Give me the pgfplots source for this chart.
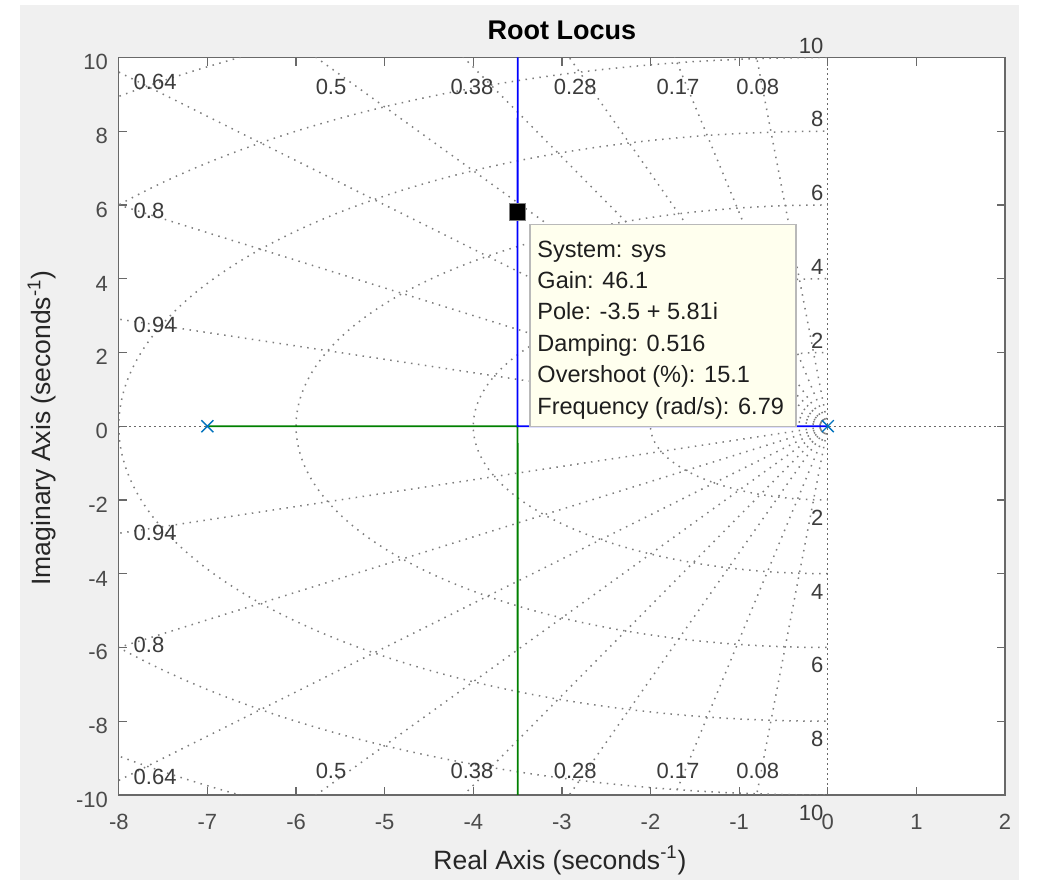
\documentclass[border=0pt]{standalone}
\usepackage{fontspec}
\setmainfont{Liberation Sans}
\usepackage{pgfplots}
\pgfplotsset{compat=1.18}
\definecolor{figbg}{RGB}{240,240,240}
\definecolor{axgray}{RGB}{105,105,105}
\definecolor{ticklab}{RGB}{75,75,75}
\definecolor{gridc}{RGB}{125,125,125}
\definecolor{gridlab}{RGB}{60,60,60}
\definecolor{locblue}{RGB}{0,0,255}
\definecolor{locgreen}{RGB}{0,128,0}
\definecolor{poleblue}{RGB}{0,114,189}
\definecolor{tipbg}{RGB}{255,255,238}
\definecolor{tipedge}{RGB}{185,185,185}
\definecolor{tiptext}{RGB}{30,30,30}
\newcommand\tickfont{\fontsize{11}{13}\selectfont}
\newcommand\labfont{\fontsize{13.25}{15}\selectfont}
\newcommand\tipfont{\fontsize{11.75}{14}\selectfont}
\tikzset{
 gridline/.style={draw=gridc, line width=0.75pt, dash pattern=on 0.75pt off 2.75pt},
 axdot/.style={draw=axgray, line width=0.6pt, dash pattern=on 1pt off 1.5pt},
 wlab/.style={font=\tickfont, text=gridlab, inner sep=0pt},
}
\begin{document}
\begin{tikzpicture}
\fill[white] (-59.4pt,-45.5pt) rectangle (459.6pt,397.5pt);
\fill[figbg] (-49.4pt,-42.5pt) rectangle (450.1pt,395pt);
\begin{axis}[
 at={(0pt,0pt)}, anchor=south west,
 width=443.1pt, height=368.75pt, scale only axis,
 xmin=-8, xmax=2, ymin=-10, ymax=10,
 xtick={-8,-7,...,2}, ytick={-10,-8,...,10},
 tick align=inside, major tick length=4.2pt,
 axis line style={draw=axgray, line width=0.6pt},
 every tick/.style={draw=axgray, line width=0.6pt},
 tick label style={font=\tickfont, text=ticklab},
 /pgf/number format/assume math mode=true,
 xticklabel style={anchor=base, inner sep=0pt, yshift=-17.5pt},
 yticklabel style={anchor=base east, inner sep=0pt, xshift=-5.25pt, yshift=-6.15pt},
 axis background/.style={fill=white},
 clip=false,
]
% grid
\begin{scope}
\clip (axis cs:-8,-10) rectangle (axis cs:2,10);
\begin{scope}
\clip (axis cs:-8,-10) rectangle (axis cs:0,10);
\draw[gridline] (axis cs:0,0) ellipse [x radius=2, y radius=2];
\draw[gridline] (axis cs:0,0) ellipse [x radius=4, y radius=4];
\draw[gridline] (axis cs:0,0) ellipse [x radius=6, y radius=6];
\draw[gridline] (axis cs:0,0) ellipse [x radius=8, y radius=8];
\draw[gridline] (axis cs:0,0) ellipse [x radius=10, y radius=10];
\draw[gridline] (axis cs:0,0) ellipse [x radius=12, y radius=12];
\end{scope}
\draw[gridline] (axis cs:0,0) -- (axis cs:-1.6,19.936);
\draw[gridline] (axis cs:0,0) -- (axis cs:-1.6,-19.936);
\draw[gridline] (axis cs:0,0) -- (axis cs:-3.4,19.709);
\draw[gridline] (axis cs:0,0) -- (axis cs:-3.4,-19.709);
\draw[gridline] (axis cs:0,0) -- (axis cs:-5.6,19.2);
\draw[gridline] (axis cs:0,0) -- (axis cs:-5.6,-19.2);
\draw[gridline] (axis cs:0,0) -- (axis cs:-7.6,18.5);
\draw[gridline] (axis cs:0,0) -- (axis cs:-7.6,-18.5);
\draw[gridline] (axis cs:0,0) -- (axis cs:-10,17.32);
\draw[gridline] (axis cs:0,0) -- (axis cs:-10,-17.32);
\draw[gridline] (axis cs:0,0) -- (axis cs:-12.8,15.367);
\draw[gridline] (axis cs:0,0) -- (axis cs:-12.8,-15.367);
\draw[gridline] (axis cs:0,0) -- (axis cs:-16,12);
\draw[gridline] (axis cs:0,0) -- (axis cs:-16,-12);
\draw[gridline] (axis cs:0,0) -- (axis cs:-18.8,6.823);
\draw[gridline] (axis cs:0,0) -- (axis cs:-18.8,-6.823);
\draw[axdot] (axis cs:-8,0) -- (axis cs:2,0);
\draw[axdot] (axis cs:0,-10) -- (axis cs:0,10);
\end{scope}
% grid labels: damping
\node[wlab, anchor=base] at (axis cs:-5.605,8.99) {0.5};
\node[wlab, anchor=base] at (axis cs:-4.015,8.99) {0.38};
\node[wlab, anchor=base] at (axis cs:-2.85,8.99) {0.28};
\node[wlab, anchor=base] at (axis cs:-1.69,8.99) {0.17};
\node[wlab, anchor=base] at (axis cs:-0.79,8.99) {0.08};
\node[wlab, anchor=base] at (axis cs:-5.605,-9.54) {0.5};
\node[wlab, anchor=base] at (axis cs:-4.015,-9.54) {0.38};
\node[wlab, anchor=base] at (axis cs:-2.85,-9.54) {0.28};
\node[wlab, anchor=base] at (axis cs:-1.69,-9.54) {0.17};
\node[wlab, anchor=base] at (axis cs:-0.79,-9.54) {0.08};
\node[wlab, anchor=base west] at (axis cs:-7.836,9.125) {0.64};
\node[wlab, anchor=base west] at (axis cs:-7.836,5.63) {0.8};
\node[wlab, anchor=base west] at (axis cs:-7.836,2.535) {0.94};
\node[wlab, anchor=base west] at (axis cs:-7.836,-9.72) {0.64};
\node[wlab, anchor=base west] at (axis cs:-7.836,-6.13) {0.8};
\node[wlab, anchor=base west] at (axis cs:-7.836,-3.09) {0.94};
% grid labels: natural frequency
\node[wlab, anchor=base east] at ([xshift=-2pt,yshift=2.2pt]axis cs:0,2) {2};
\node[wlab, anchor=base east] at ([xshift=-2pt,yshift=2.2pt]axis cs:0,4) {4};
\node[wlab, anchor=base east] at ([xshift=-2pt,yshift=2.2pt]axis cs:0,6) {6};
\node[wlab, anchor=base east] at ([xshift=-2pt,yshift=2.2pt]axis cs:0,8) {8};
\node[wlab, anchor=base east] at ([xshift=-2pt,yshift=2.2pt]axis cs:0,10) {10};
\node[wlab, anchor=base east] at ([xshift=-2pt,yshift=-12.7pt]axis cs:0,-2) {2};
\node[wlab, anchor=base east] at ([xshift=-2pt,yshift=-12.7pt]axis cs:0,-4) {4};
\node[wlab, anchor=base east] at ([xshift=-2pt,yshift=-12.7pt]axis cs:0,-6) {6};
\node[wlab, anchor=base east] at ([xshift=-2pt,yshift=-12.7pt]axis cs:0,-8) {8};
\node[wlab, anchor=base east] at ([xshift=-2pt,yshift=-12.7pt]axis cs:0,-10) {10};
% root locus branches; the square is the data-tip point (-3.5, 5.81) on the blue branch
\addplot[color=locgreen, line width=0.9pt, mark=none] coordinates {(-7,0) (-3.5,0) (-3.499,-10)};
\addplot[color=locblue, line width=0.9pt, mark=square*, mark indices={3}, mark size=4.2pt,
  mark options={solid, fill=black, draw=gray, line width=0.5pt}]
  coordinates {(0,0) (-3.5,0) (-3.5,5.81) (-3.499,10)};
% poles
\addplot[only marks, draw=none, mark=x, mark size=4.24pt, mark options={line width=0.7pt, draw=poleblue}] coordinates {(-7,0) (0,0)};
% data tip box
\filldraw[fill=tipbg, draw=tipedge, line width=0.6pt] (axis cs:-3.359,0) rectangle (axis cs:-0.359,5.465);
\coordinate (tipNW) at (axis cs:-3.359,5.465);
\end{axis}
\begin{scope}[every node/.style={font=\tipfont, text=tiptext, inner sep=0pt, anchor=base west}]
\node at ([xshift=3.5pt,yshift=-16.2pt]tipNW) {System: sys};
\node at ([xshift=3.5pt,yshift=-31.9pt]tipNW) {Gain: 46.1};
\node at ([xshift=3.5pt,yshift=-47.6pt]tipNW) {Pole: -3.5 + 5.81i};
\node at ([xshift=3.5pt,yshift=-63.3pt]tipNW) {Damping: 0.516};
\node at ([xshift=3.5pt,yshift=-79.0pt]tipNW) {Overshoot (\%): 15.1};
\node at ([xshift=3.5pt,yshift=-94.7pt]tipNW) {Frequency (rad/s): 6.79};
\end{scope}
\node[anchor=base, font=\fontsize{13.5}{15}\selectfont\bfseries] at (221.5pt,377.5pt) {Root Locus};
\node[anchor=base, font=\labfont, text=black!85] at (220.6pt,-37.2pt) {Real Axis (seconds\textsuperscript{-1})};
\node[anchor=base, rotate=90, font=\labfont, text=black!85] at (-34pt,183.5pt) {Imaginary Axis (seconds\textsuperscript{-1})};
\pgfresetboundingbox
\path[use as bounding box] (-59.4pt,-45.5pt) rectangle (459.6pt,397.5pt);
\end{tikzpicture}
\end{document}
